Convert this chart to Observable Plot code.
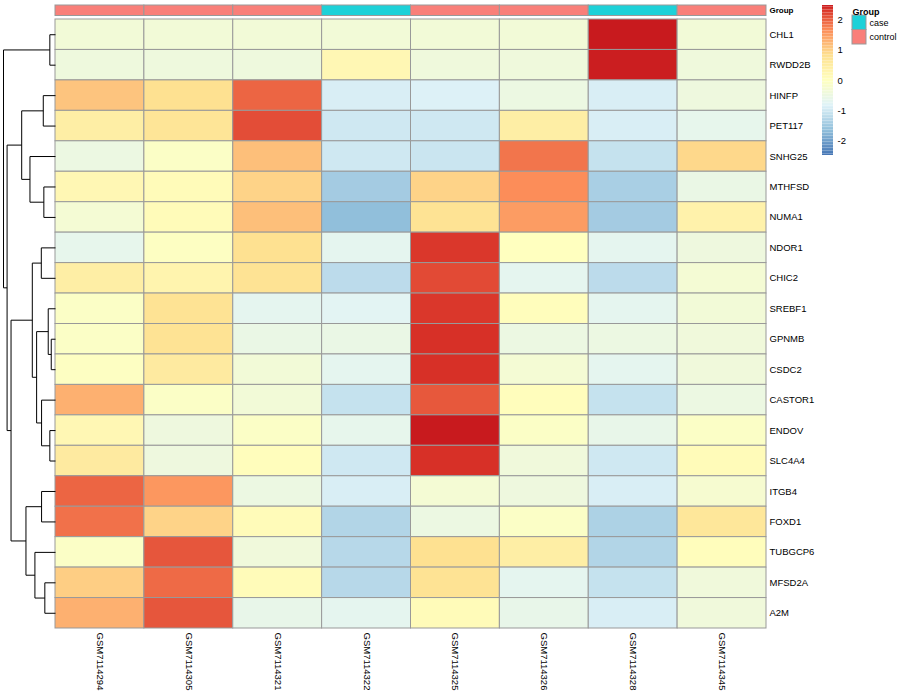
<!DOCTYPE html>
<html><head><meta charset="utf-8">
<script src="https://cdn.jsdelivr.net/npm/d3@7"></script>
<script src="https://cdn.jsdelivr.net/npm/@observablehq/plot@0.6"></script>
<style>
body{margin:0;background:#fff;font-family:"Liberation Sans",Arial,Helvetica,sans-serif;}
#chart{position:relative;width:900px;height:700px;overflow:hidden;}
#chart svg{position:absolute;top:0;left:0;}
</style></head><body><div id="chart"></div>
<script>
// ---- data ----
const samples = ["GSM7114294","GSM7114305","GSM7114321","GSM7114322","GSM7114325","GSM7114326","GSM7114328","GSM7114345"];
const groups  = ["control","control","control","case","control","control","case","control"];
const genes = ["CHL1","RWDD2B","HINFP","PET117","SNHG25","MTHFSD","NUMA1","NDOR1","CHIC2","SREBF1",
               "GPNMB","CSDC2","CASTOR1","ENDOV","SLC4A4","ITGB4","FOXD1","TUBGCP6","MFSD2A","A2M"];
// row-scaled expression (z-scores), one array per gene, columns in sample order
const zScores = [
  [-0.35,-0.35,-0.35,-0.35,-0.35,-0.35, 2.47,-0.35],
  [-0.44,-0.44,-0.44, 0.20,-0.42,-0.42, 2.45,-0.42],
  [ 1.10, 0.80, 1.95,-0.90,-0.85,-0.50,-0.90,-0.45],
  [ 0.45, 0.70, 2.13,-1.00,-1.00, 0.45,-0.90,-0.65],
  [-0.50,-0.10, 1.15,-1.00,-1.05, 1.83,-1.10, 0.90],
  [ 0.20, 0.10, 0.95,-1.45, 0.95, 1.65,-1.40,-0.55],
  [-0.30, 0.10, 1.15,-1.65, 0.75, 1.50,-1.45, 0.35],
  [-0.65,-0.05, 0.80,-0.70, 2.30, 0.00,-0.70,-0.45],
  [ 0.45, 0.30, 0.75,-1.20, 2.15,-0.70,-1.20,-0.30],
  [-0.10, 0.75,-0.70,-0.75, 2.30, 0.05,-0.70,-0.35],
  [-0.10, 0.75,-0.55,-0.55, 2.35,-0.50,-0.50,-0.40],
  [-0.05, 0.55,-0.35,-0.70, 2.35,-0.30,-0.70,-0.40],
  [ 1.30,-0.10,-0.35,-1.10, 2.05, 0.05,-1.10,-0.50],
  [ 0.20,-0.45,-0.10,-0.65, 2.47,-0.10,-0.60,-0.10],
  [ 0.55,-0.45, 0.05,-1.00, 2.35,-0.40,-1.00, 0.10],
  [ 1.95, 1.55,-0.50,-0.90,-0.30,-0.45,-0.90,-0.25],
  [ 1.86, 0.95, 0.10,-1.30,-0.50,-0.10,-1.35, 0.65],
  [-0.10, 2.06,-0.40,-1.25, 0.80, 0.45,-1.30, 0.05],
  [ 1.00, 1.91, 0.10,-1.25, 0.75,-0.70,-1.10,-0.40],
  [ 1.30, 2.06,-0.60,-0.70, 0.10,-0.60,-0.90,-0.40]
];
// row dendrogram (hclust-style merges; negative = leaf number in display order)
const mergeLeft   = [-11,-1,-14,-10,-19,-6,-3,-13,-16,-8, 4,-18,10,-5, 9, 7,13,16, 2];
const mergeRight  = [-12,-2,-15,  1,-20,-7,-4,  3,-17,-9, 8,  5,11, 6,12,14,15,17,18];
const mergeHeight = [0.82,1.09,1.09,1.40,2.05,2.24,2.35,2.68,2.68,2.73,3.63,3.96,4.46,4.91,5.68,6.50,8.55,9.31,10.0];
// colour legend
const legendLimit = 2.47;
const legendTicks = [-2,-1,0,1,2];
const rampStops  = [-2.47, -1.647, -0.823, 0, 0.823, 1.647, 2.35, 2.47];
const rampColors = ["#4575B4","#91BFDB","#E0F3F8","#FFFFBF","#FEE090","#FC8D59","#D73027","#C81A1E"];
const groupNames = ["case","control"];
const groupColors = ["#1DD1D8","#F97F79"];

// ---- helpers ----
const FONT = '"Liberation Sans", Arial, Helvetica, sans-serif';
const GRID = "#999999";
const colorOpt = {type: "linear", domain: rampStops, range: rampColors, interpolate: "rgb", clamp: true};
const chart = document.getElementById("chart");
const baseStyle = {background: "transparent", fontFamily: FONT, color: "#000", overflow: "visible"};

// heatmap
const cells = genes.flatMap((g, i) => samples.map((s, j) => ({gene: g, sample: s, value: zScores[i][j]})));
chart.append(Plot.plot({
  width: 900, height: 700,
  marginLeft: 55, marginRight: 134, marginTop: 19, marginBottom: 72,
  x: {domain: samples, padding: 0, round: false, axis: null},
  y: {domain: genes, padding: 0, round: false, axis: null},
  color: colorOpt,
  style: {...baseStyle, fontSize: "9.5px"},
  marks: [
    Plot.cell(cells, {x: "sample", y: "gene", fill: "value", stroke: GRID, strokeWidth: 1, inset: 0}),
    Plot.axisY({anchor: "right", tickSize: 0, tickPadding: 3, label: null, fontSize: 9.5}),
    Plot.axisX({anchor: "bottom", tickSize: 0, tickPadding: 4, tickRotate: 90, label: null, fontSize: 9.5})
  ]
}));

// annotation bar
const annot = samples.map((s, j) => ({sample: s, group: groups[j], row: "Group"}));
chart.append(Plot.plot({
  width: 900, height: 20,
  marginLeft: 55, marginRight: 134, marginTop: 5, marginBottom: 4.5,
  x: {domain: samples, padding: 0, round: false, axis: null},
  y: {domain: ["Group"], padding: 0, round: false, axis: null},
  color: {domain: groupNames, range: groupColors},
  style: {...baseStyle, fontSize: "8px"},
  marks: [
    Plot.cell(annot, {x: "sample", y: "row", fill: "group", stroke: GRID, strokeWidth: 1, inset: 0}),
    Plot.axisY({anchor: "right", tickSize: 0, tickPadding: 3, label: null, fontWeight: "bold", fontSize: 8})
  ]
}));

// dendrogram
const nodePos = [];
const getNode = k => k < 0 ? {h: 0, y: -k - 0.5} : nodePos[k - 1];
const segs = [];
mergeHeight.forEach((h, i) => {
  const a = getNode(mergeLeft[i]), b = getNode(mergeRight[i]);
  segs.push({x1: a.h, y1: a.y, x2: h, y2: a.y});
  segs.push({x1: h, y1: a.y, x2: h, y2: b.y});
  segs.push({x1: b.h, y1: b.y, x2: h, y2: b.y});
  nodePos.push({h, y: (a.y + b.y) / 2});
});
chart.append(Plot.plot({
  width: 60, height: 700, margin: 0,
  x: {domain: [0, d3.max(mergeHeight)], range: [55, 3], axis: null},
  y: {domain: [0, genes.length], range: [19, 628], axis: null},
  style: baseStyle,
  marks: [Plot.link(segs, {x1: "x1", y1: "y1", x2: "x2", y2: "y2", stroke: "#000", strokeWidth: 1})]
}));

// colour legend
const nBins = 100;
const bins = d3.range(nBins).map(i => {
  const lo = -legendLimit + i * 2 * legendLimit / nBins, hi = lo + 2 * legendLimit / nBins;
  return {lo, hi, mid: (lo + hi) / 2};
});
chart.append(Plot.plot({
  width: 900, height: 170, margin: 0,
  x: {domain: [0, 1], range: [822, 833], axis: null},
  y: {domain: [-legendLimit, legendLimit], range: [155, 5], axis: null},
  color: colorOpt,
  style: {...baseStyle, fontSize: "9.5px"},
  marks: [
    Plot.rect(bins, {x1: 0, x2: 1, y1: "lo", y2: "hi", fill: "mid"}),
    Plot.text(legendTicks, {x: 1, y: d => d, text: d => String(d), textAnchor: "start", dx: 4, fontSize: 9.5})
  ]
}));

// group legend
const gl = Plot.plot({
  width: 50, height: 50,
  marginLeft: 2, marginRight: 34, marginTop: 15, marginBottom: 6,
  x: {domain: ["k"], padding: 0, round: false, axis: null},
  y: {domain: groupNames, padding: 0, round: false, axis: null},
  color: {domain: groupNames, range: groupColors},
  style: {...baseStyle, fontSize: "9px"},
  marks: [
    Plot.cell(groupNames, {x: () => "k", y: d => d, fill: d => d, stroke: GRID, strokeWidth: 1, inset: 0}),
    Plot.axisY({anchor: "right", tickSize: 0, tickPadding: 3, label: null, fontSize: 9}),
    Plot.text(["Group"], {frameAnchor: "top-left", text: d => d, textAnchor: "start", lineAnchor: "bottom", dy: -1, fontWeight: "bold", fontSize: 9})
  ]
});
gl.style.left = "850px";
chart.append(gl);
</script></body></html>
